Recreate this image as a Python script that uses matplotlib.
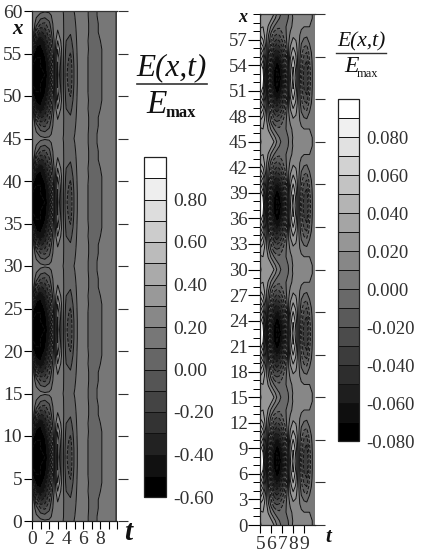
import numpy as np
import matplotlib
matplotlib.use('Agg')
import matplotlib.pyplot as plt
from matplotlib.lines import Line2D

plt.rcParams['font.family'] = ['Liberation Serif', 'DejaVu Serif']
plt.rcParams['axes.unicode_minus'] = False

W, H = 424, 550
TEXT = '#303030'

# values, one lobe, from its centre line outwards
left_t = [0, .5, 1, 1.5, 2, 2.5, 3, 3.5, 4, 4.5, 5, 5.5, 6, 7, 8, 9, 10]
left_d = [0, 1, 2, 3, 4, 5, 6, 7, 7.5]
left_rows = [
    [-.60, -.60, -.60, -.60, -.42, -.05, .55, .20, -.08, -.17, .04, .14, .16, .05, .09, .15, .09],
    [-.60, -.60, -.60, -.58, -.40, -.05, .52, .20, -.07, -.16, .04, .14, .16, .05, .09, .15, .09],
    [-.50, -.60, -.60, -.53, -.36, -.02, .48, .19, -.05, -.13, .05, .14, .16, .05, .09, .15, .09],
    [-.30, -.55, -.55, -.45, -.30, .02, .40, .18, -.03, -.08, .06, .14, .16, .06, .09, .15, .09],
    [.25, -.40, -.48, -.38, -.22, .06, .30, .16, .00, -.03, .07, .14, .15, .06, .10, .15, .09],
    [.35, -.15, -.32, -.27, -.12, .10, .21, .15, .03, .01, .08, .14, .15, .07, .11, .15, .09],
    [.20, .05, -.10, -.12, -.03, .12, .17, .14, .04, .03, .09, .14, .15, .07, .11, .15, .09],
    [.14, .12, .08, .05, .07, .13, .15, .13, .05, .04, .10, .14, .14, .07, .12, .15, .09],
    [.13, .13, .12, .115, .12, .13, .14, .12, .05, .05, .11, .14, .14, .07, .12, .15, .09],
]

right_t = [5, 5.25, 5.5, 5.75, 6, 6.25, 6.5, 6.75, 7, 7.25, 7.5, 7.75, 8, 8.25, 8.5, 8.75, 9, 9.25, 9.5, 9.75, 10]
right_d = [0, 1, 2, 3, 4, 5, 6, 7, 7.5]
right_rows = [
    [.100, .100, .050, -.010, -.050, -.075, -.080, -.080, -.065, -.040, .000, .040, .055, .040, .012, -.018, -.035, -.040, -.015, .000, .005],
    [.100, .090, .045, -.010, -.050, -.070, -.080, -.075, -.060, -.035, .000, .037, .052, .038, .012, -.016, -.032, -.037, -.014, .000, .005],
    [.090, .075, .040, -.005, -.040, -.060, -.070, -.065, -.050, -.030, .000, .032, .045, .033, .012, -.012, -.026, -.030, -.010, .001, .005],
    [.075, .060, .033, .000, -.030, -.050, -.055, -.050, -.040, -.022, .002, .025, .036, .028, .012, -.006, -.017, -.020, -.006, .003, .005],
    [.055, .045, .027, .005, -.015, -.032, -.040, -.035, -.025, -.012, .005, .018, .026, .022, .013, .000, -.006, -.008, .000, .005, .005],
    [.040, .035, .025, .010, -.005, -.018, -.022, -.020, -.012, -.005, .005, .012, .018, .017, .013, .006, .003, .002, .005, .007, .005],
    [.028, .030, .028, .018, .008, .000, -.006, -.008, -.005, -.002, .003, .008, .012, .014, .014, .012, .010, .010, .010, .008, .005],
    [.020, .027, .030, .028, .022, .014, .006, .000, -.003, -.003, -.001, .004, .011, .014, .015, .016, .016, .015, .014, .010, .005],
    [.018, .026, .030, .030, .027, .020, .010, .002, -.002, -.003, -.002, .004, .012, .015, .016, .016, .016, .016, .014, .010, .005],
]

lobe_centres = [7.5, 22.5, 37.5, 52.5]

left_levels = np.arange(-6, 11) / 10
left_ticks = np.arange(-6, 9, 2) / 10
right_levels = np.arange(-8, 11) / 100
right_ticks = np.arange(-8, 9, 2) / 100


def px_axes(fig, x0, y0, x1, y1):
    # box given in picture pixels, y going down
    return fig.add_axes([x0 / W, 1 - y1 / H, (x1 - x0) / W, (y1 - y0) / H])


def ptext(fig, x, y, s, **kw):
    kw.setdefault('color', TEXT)
    kw.setdefault('ha', 'center')
    kw.setdefault('va', 'center')
    fig.text(x / W, 1 - y / H, s, **kw)


def full_grid(d, rows):
    # repeat the lobe along x
    d = np.array(d)
    rows = np.array(rows)
    xs, zs = [], []
    for c in lobe_centres:
        xs.append(np.concatenate([c - d[::-1], c + d[1:]]))
        zs.append(np.vstack([rows[::-1], rows[1:]]))
    x = np.concatenate(xs)
    z = np.vstack(zs)
    x, idx = np.unique(x, return_index=True)
    return x, z[idx]


def panel(fig, box, t, d, rows, levels, vmin, vmax, xlim):
    ax = px_axes(fig, *box)
    x, z = full_grid(d, rows)
    cf = ax.contourf(t, x, z, levels=levels, cmap='gray', vmin=vmin, vmax=vmax)
    cs = ax.contour(t, x, z, levels=levels, colors='#111111', linewidths=0.7)
    ax.set_xlim(*xlim)
    ax.set_ylim(0, 60)
    for s in ['top', 'right']:
        ax.spines[s].set_visible(False)
    for s in ['left', 'bottom']:
        ax.spines[s].set_color('#222222')
        ax.spines[s].set_linewidth(0.9)
    sec = ax.secondary_yaxis('right')
    sec.set_yticks(np.arange(0, 61, 5))
    sec.set_yticklabels([])
    sec.tick_params(length=7, width=0.8, color='#333333')
    sec.spines['right'].set_visible(False)
    ax.add_line(Line2D([xlim[0], xlim[1]], [60, 60], color='#333333', lw=0.9, clip_on=False))
    return ax, cf, cs


def colourbar(fig, box, cf, cs, ticks, fmt, size):
    cax = px_axes(fig, *box)
    cb = fig.colorbar(cf, cax=cax, ticks=ticks, format=fmt)
    cb.add_lines(cs)
    cb.outline.set_edgecolor('#222222')
    cb.outline.set_linewidth(0.9)
    cax.tick_params(length=0, pad=5, labelsize=size, labelcolor=TEXT)
    return cb


fig = plt.figure(figsize=(W / 100, H / 100), dpi=100, facecolor='white')

# left panel
ax1, cf1, cs1 = panel(fig, (32, 11, 117.5, 521), left_t, left_d, left_rows,
                      left_levels, -0.55, 0.95, (0, 10))
ax1.set_xticks(np.arange(0, 9, 2))
ax1.set_xticks(np.arange(0, 11), minor=True)
ax1.set_yticks(np.arange(0, 61, 5))
ax1.tick_params(axis='both', which='both', length=6, width=0.8, labelsize=14, labelcolor=TEXT, pad=1)
colourbar(fig, (144, 157, 166, 497), cf1, cs1, left_ticks, '%.2f', 14)

# right panel
ax2, cf2, cs2 = panel(fig, (260.3, 14, 315, 525), right_t, right_d, right_rows,
                      right_levels, -0.075, 0.095, (5, 10))
ax2.set_xticks(np.arange(5, 10))
ax2.set_yticks(np.arange(0, 58, 3))
ax2.set_yticks(np.arange(0, 61), minor=True)
ax2.tick_params(axis='y', which='major', length=9, width=0.8, labelsize=13.5, labelcolor=TEXT, pad=0)
ax2.tick_params(axis='y', which='minor', length=5, width=0.7)
ax2.tick_params(axis='x', length=6, width=0.8, labelsize=14, labelcolor=TEXT, pad=2)
colourbar(fig, (338, 99, 359, 441), cf2, cs2, right_ticks, '%.3f', 13.5)

# axis letters
ptext(fig, 17, 29, 'x', fontsize=15, style='italic', weight='bold', color='#111111')
ptext(fig, 128, 533, 't', fontsize=21, style='italic', weight='bold', color='#111111')
ptext(fig, 243, 18, 'x', fontsize=13, style='italic', weight='bold', color='#111111')
ptext(fig, 328, 537, 't', fontsize=15, style='italic', weight='bold', color='#111111')

# fraction labels
ptext(fig, 172, 68, 'E(x,t)', fontsize=22.5, style='italic', color='#111111')
fig.add_artist(Line2D([137 / W, 207 / W], [1 - 84 / H] * 2, color='#333333', lw=1.2))
ptext(fig, 157, 105, 'E', fontsize=24, style='italic', color='#111111')
ptext(fig, 181, 113, 'max', fontsize=12, weight='bold', color='#111111')

ptext(fig, 361, 42, 'E(x,t)', fontsize=15.5, style='italic', color='#111111')
fig.add_artist(Line2D([336 / W, 386 / W], [1 - 53 / H] * 2, color='#333333', lw=1.0))
ptext(fig, 351, 67, 'E', fontsize=17, style='italic', color='#111111')
ptext(fig, 367, 74, 'max', fontsize=9, color='#111111')

fig.savefig('out.png', dpi=100, facecolor='white')
